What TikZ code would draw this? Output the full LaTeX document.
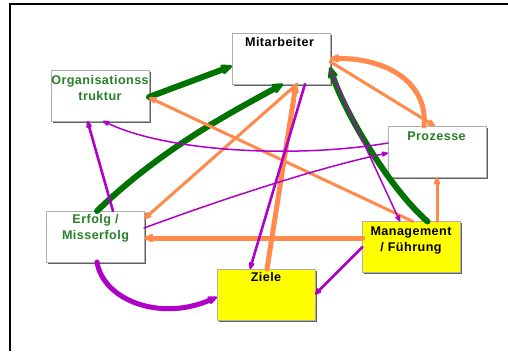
\documentclass[tikz,border=0pt]{standalone}
\usepackage{fontspec}
\newfontfamily\labfont[LetterSpace=3.5]{Liberation Sans}
\usetikzlibrary{arrows.meta,shadows}
\definecolor{agreen}{RGB}{0,115,0}
\definecolor{aorange}{RGB}{255,138,76}
\definecolor{apurple}{RGB}{175,0,200}
\definecolor{tgreen}{RGB}{38,128,38}
\definecolor{boxline}{RGB}{175,175,175}
\definecolor{yel}{RGB}{255,255,0}
\begin{document}
\begin{tikzpicture}[x=1pt,y=-1pt,
  box/.style={draw=boxline,line width=0.6pt,fill=white,minimum width=98pt,minimum height=51pt,
    inner sep=0pt,outer sep=0pt,
    drop shadow={shadow xshift=1.6pt,shadow yshift=-1.6pt,fill=black!62,opacity=1}},
  ybox/.style={box,fill=yel},
  lab/.style={font=\labfont\bfseries\fontsize{12.6}{15.8}\selectfont,align=center,inner sep=0pt,anchor=north},
  glab/.style={lab,text=tgreen},
  klab/.style={lab,text=black},
  gthick/.style={draw=agreen,line width=6pt,line cap=round,-{Stealth[round,length=14pt,width=12pt,inset=2pt]}},
  othick/.style={draw=aorange,line width=5pt,line cap=round,-{Stealth[round,length=12pt,width=10pt,inset=2pt]}},
  othin/.style={draw=aorange,line width=3pt,line cap=round,-{Stealth[round,length=10pt,width=8pt,inset=1.5pt]}},
  pthick/.style={draw=apurple,line width=5pt,line cap=round,-{Stealth[round,length=12pt,width=10pt,inset=2pt]}},
  pmid/.style={draw=apurple,line width=2.6pt,line cap=round,-{Stealth[round,length=9pt,width=7pt,inset=1.5pt]}},
  pthin/.style={draw=apurple,line width=1.5pt,line cap=round,-{Stealth[round,length=8pt,width=6pt,inset=1pt]}},
]
\useasboundingbox (0,0) rectangle (508,351);
\fill[white] (0,0) rectangle (508,351);
\draw[line width=2pt] (10,351) -- (10,3.5) -- (508,3.5);

% boxes
\node[box]  (mit)   at (281,58.5)   {};
\node[box]  (org)   at (100,95.5)   {};
\node[box]  (proz)  at (437,151.5)  {};
\node[box]  (erf)   at (95,236.5)   {};
\node[ybox] (ziele) at (266,294.5)  {};
\node[ybox] (mgmt)  at (411.5,247)  {};

% green connectors
\draw[gthick] ([yshift=-1.5pt]org.east) -- ([yshift=-7.5pt]mit.west);
\draw[gthick] ([xshift=2pt]erf.north) .. controls (160,150) and (228,114) .. ([xshift=2pt]mit.south);
\draw[gthick] ([xshift=16pt]mgmt.north) .. controls (388,187) and (343,109) .. ([yshift=-8.5pt]mit.east);

% orange connectors
\draw[othick] ([xshift=-13pt]proz.north) .. controls (428,85) and (390,58) .. (mit.east);
\draw[othin] ([yshift=-3pt]mit.east) -- ([xshift=-2pt]proz.north);
\draw[othin] ([xshift=1.5pt]mgmt.north) -- ([yshift=-2pt]org.east);
\draw[othick] ([yshift=9pt]mgmt.west) -- ([yshift=-1.5pt]erf.east);
\draw[othick] ([xshift=1pt]ziele.north) -- ([xshift=15pt]mit.south);
\draw[othin] ([xshift=16pt]mit.south) -- ([yshift=-8pt]erf.north east);
\draw[othin] ([xshift=25.5pt]mgmt.north) -- (proz.south);

% purple connectors
\draw[pthick] ([xshift=2pt]erf.south) .. controls (103,300) and (160,322) .. ([yshift=-2.5pt]ziele.west);
\draw[pmid] ([xshift=18pt]erf.north) -- ([xshift=-12.5pt]org.south);
\draw[pthin] ([yshift=8.5pt]proz.west) .. controls (300,158) and (170,153) .. ([xshift=3pt]org.south);
\draw[pthin] ([yshift=8.5pt]erf.east) .. controls (220,200) and (320,167) .. ([yshift=-1.5pt]proz.west);
\draw[pmid] ([xshift=24pt]mit.south) -- ([xshift=-16pt]ziele.north);
\draw[pthin] ([yshift=-11.5pt]mit.east) -- ([xshift=-11.5pt]mgmt.north);
\draw[pmid] (mgmt.west) -- (ziele.east);

% texts
\node[klab] (mitT)   at (279.5,37.5) {Mitarbeiter};
\node[glab] (orgT)   at (100,75.5)   {Organisationss\\truktur};
\node[glab] (prozT)  at (436.5,131.5) {Prozesse};
\node[glab] (erfT)   at (95.5,214.5) {Erfolg /\\Misserfolg};
\node[klab] (mgmtT)  at (411,226.5)  {Management\\/ Führung};
\node[klab] (zieleT) at (266,272.5)  {Ziele};
\end{tikzpicture}
\end{document}
